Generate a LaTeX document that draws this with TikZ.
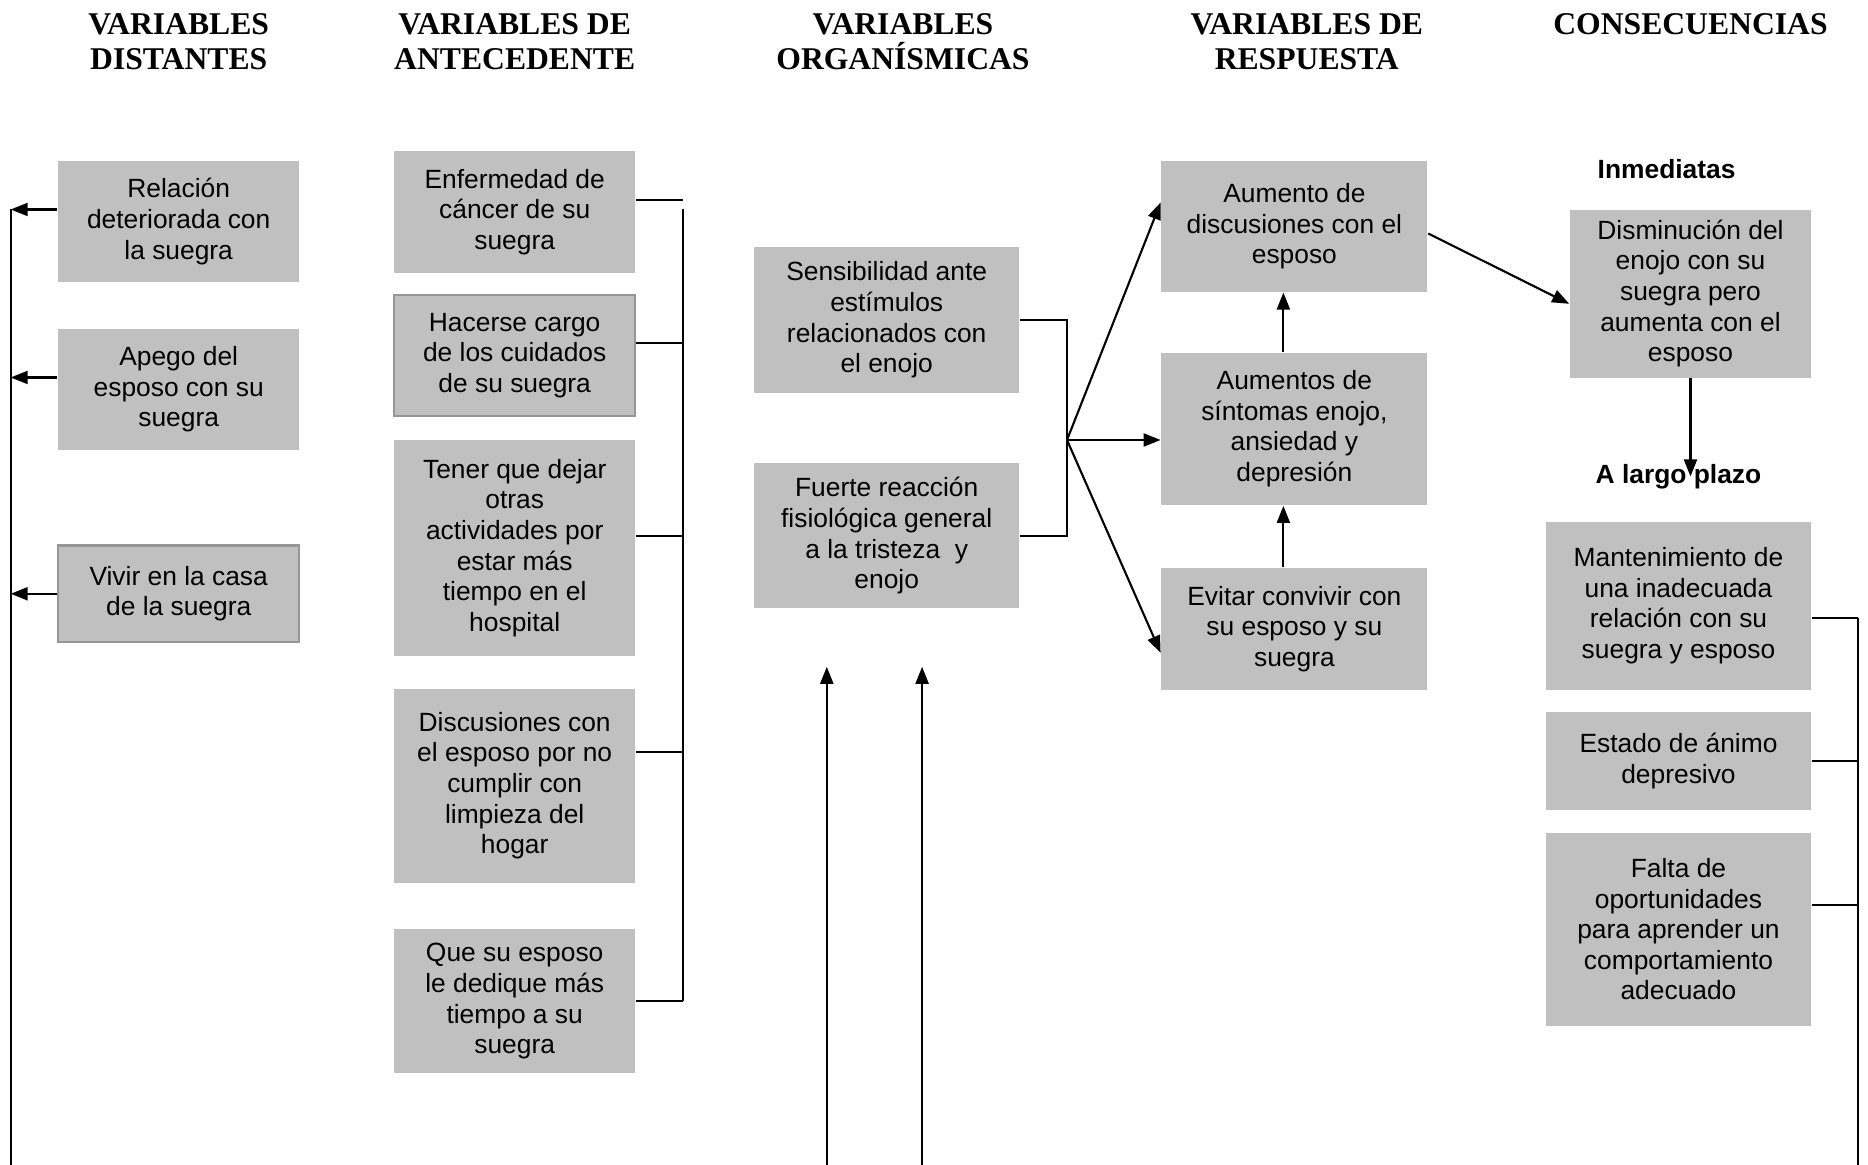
\documentclass[tikz,border=0pt]{standalone}
\usepackage{fontspec}
\setmainfont{Liberation Sans}
\newfontfamily\headfont{Liberation Serif}
\usetikzlibrary{arrows.meta,positioning}
\definecolor{boxgray}{HTML}{C0C0C0}
\definecolor{edgegray}{HTML}{969696}

\begin{document}
\begin{tikzpicture}[
	x=0.01cm,y=-0.01cm,
	caja/.style={fill=boxgray,inner sep=0pt,align=center,font=\fontsize{7.5}{8.7}\selectfont},
	marco/.style={caja,draw=edgegray,line width=0.6pt},
	titulo/.style={align=center,font=\headfont\bfseries\fontsize{9}{10.2}\selectfont},
	etiq/.style={font=\bfseries\fontsize{7.5}{8.7}\selectfont},
	lin/.style={line width=0.6pt},
	arr/.style={lin,-{Triangle[length=0.17cm,width=0.13cm]}}
	]
	\useasboundingbox (0,0) rectangle (1868,1165);
	\node[titulo] (t1) at (178.7,41.7) {VARIABLES\\ DISTANTES};
	\node[titulo] (t2) at (514.7,41.7) {VARIABLES DE\\ ANTECEDENTE};
	\node[titulo] (t3) at (903,41.7) {VARIABLES\\ ORGAN\'ISMICAS};
	\node[titulo] (t4) at (1306.8,41.7) {VARIABLES DE\\ RESPUESTA};
	\node[titulo] (t5) at (1690.5,23.8) {CONSECUENCIAS};

	\node[caja,minimum width=2.41cm,minimum height=1.215cm] (rel) at (178.7,221.5) {Relación\\ deteriorada con\\ la suegra};
	\node[caja,minimum width=2.41cm,minimum height=1.215cm] (ape) at (178.7,389.5) {Apego del\\ esposo con su\\ suegra};
	\node[marco,minimum width=2.41cm,minimum height=0.965cm] (viv) at (178.7,593.8) {Vivir en la casa\\ de la suegra};

	\node[caja,minimum width=2.41cm,minimum height=1.215cm] (enf) at (514.7,212) {Enfermedad de\\ cáncer de su\\ suegra};
	\node[marco,minimum width=2.41cm,minimum height=1.204cm] (hac) at (514.7,355.6) {Hacerse cargo\\ de los cuidados\\ de su suegra};
	\node[caja,minimum width=2.41cm,minimum height=2.168cm] (ten) at (514.7,548) {Tener que dejar\\ otras\\ actividades por\\ estar más\\ tiempo en el\\ hospital};
	\node[caja,minimum width=2.41cm,minimum height=1.942cm] (dis) at (514.7,785.7) {Discusiones con\\ el esposo por no\\ cumplir con\\ limpieza del\\ hogar};
	\node[caja,minimum width=2.41cm,minimum height=1.442cm] (que) at (514.7,1001.3) {Que su esposo\\ le dedique más\\ tiempo a su\\ suegra};

	\node[caja,minimum width=2.65cm,minimum height=1.454cm] (sen) at (886.7,320) {Sensibilidad ante\\ estímulos\\ relacionados con\\ el enojo};
	\node[caja,minimum width=2.65cm,minimum height=1.45cm] (fue) at (886.7,535.8) {Fuerte reacción\\ fisiológica general\\ a la tristeza~ y\\ enojo};

	\node[caja,minimum width=2.66cm,minimum height=1.31cm] (aum) at (1294.4,226.3) {Aumento de\\ discusiones con el\\ esposo};
	\node[caja,minimum width=2.66cm,minimum height=1.525cm] (sin) at (1294.4,428.9) {Aumentos de\\ síntomas enojo,\\ ansiedad y\\ depresión};
	\node[caja,minimum width=2.66cm,minimum height=1.215cm] (evi) at (1294.4,629) {Evitar convivir con\\ su esposo y su\\ suegra};

	\node[etiq] (inm) at (1666.6,169.2) {Inmediatas};
	\node[caja,minimum width=2.41cm,minimum height=1.68cm] (dim) at (1690.5,293.6) {Disminución del\\ enojo con su\\ suegra pero\\ aumenta con el\\ esposo};
	\node[etiq] (lp) at (1678.5,476.5) {A largo plazo};
	\node[caja,minimum width=2.645cm,minimum height=1.68cm] (man) at (1678.5,605.8) {Mantenimiento de\\ una inadecuada\\ relación con su\\ suegra y esposo};
	\node[caja,minimum width=2.645cm,minimum height=0.977cm] (est) at (1678.5,761.3) {Estado de ánimo\\ depresivo};
	\node[caja,minimum width=2.645cm,minimum height=1.93cm] (fal) at (1678.5,929.2) {Falta de\\ oportunidades\\ para aprender un\\ comportamiento\\ adecuado};

	\coordinate (izq) at (10.7,1165);
	\coordinate (r1) at ([yshift=0.12cm]rel.west);
	\coordinate (r2) at ([yshift=0.12cm]ape.west);
	\coordinate (r3) at (viv.west);
	\draw[arr] (r1) -- (r1 -| izq);
	\draw[arr] (r2) -- (r2 -| izq);
	\draw[arr] (r3) -- (r3 -| izq);
	\draw[lin] (r1 -| izq) -- (izq);

	\coordinate (bus2) at (683,209.5);
	\coordinate (a1) at ([yshift=0.12cm]enf.east);
	\coordinate (a2) at ([yshift=0.126cm]hac.east);
	\coordinate (a3) at ([yshift=0.12cm]ten.east);
	\coordinate (a4) at ([yshift=0.34cm]dis.east);
	\coordinate (a5) at (que.east);
	\draw[lin] (a1) -- (a1 -| bus2);
	\draw[lin] (a2) -- (a2 -| bus2);
	\draw[lin] (a3) -- (a3 -| bus2);
	\draw[lin] (a4) -- (a4 -| bus2);
	\draw[lin] (a5) -- (a5 -| bus2);
	\draw[lin] (bus2) -- (a5 -| bus2);

	\coordinate (nudo) at (1067,440);
	\draw[lin] (sen.east) -| (nudo);
	\draw[lin] (fue.east) -| (nudo);
	\draw[arr] (nudo) -- ([yshift=0.238cm]aum.west);
	\draw[arr] (nudo) -- (nudo -| sin.west);
	\draw[arr] (nudo) -- ([yshift=-0.238cm]evi.west);

	\coordinate (u1) at (826.8,1165);
	\coordinate (u1t) at (826.8,666.8);
	\coordinate (u2) at (922.1,1165);
	\coordinate (u2t) at (922.1,666.8);
	\draw[arr] (u1) -- (u1t);
	\draw[arr] (u2) -- (u2t);

	\draw[arr] ([xshift=-0.11cm]sin.north) -- ([xshift=-0.11cm]aum.south);
	\draw[arr] ([xshift=-0.11cm]evi.north) -- ([xshift=-0.11cm]sin.south);
	\draw[arr] ([yshift=-0.072cm]aum.east) -- ([yshift=-0.102cm]dim.west);
	\draw[arr] (dim.south) -- (dim.south |- lp.center);

	\coordinate (bus5) at (1858,1165);
	\coordinate (c1) at ([yshift=-0.125cm]man.east);
	\coordinate (c2) at (est.east);
	\coordinate (c3) at ([yshift=0.238cm]fal.east);
	\draw[lin] (c1) -- (c1 -| bus5);
	\draw[lin] (c2) -- (c2 -| bus5);
	\draw[lin] (c3) -- (c3 -| bus5);
	\draw[lin] (c1 -| bus5) -- (bus5);
\end{tikzpicture}
\end{document}
